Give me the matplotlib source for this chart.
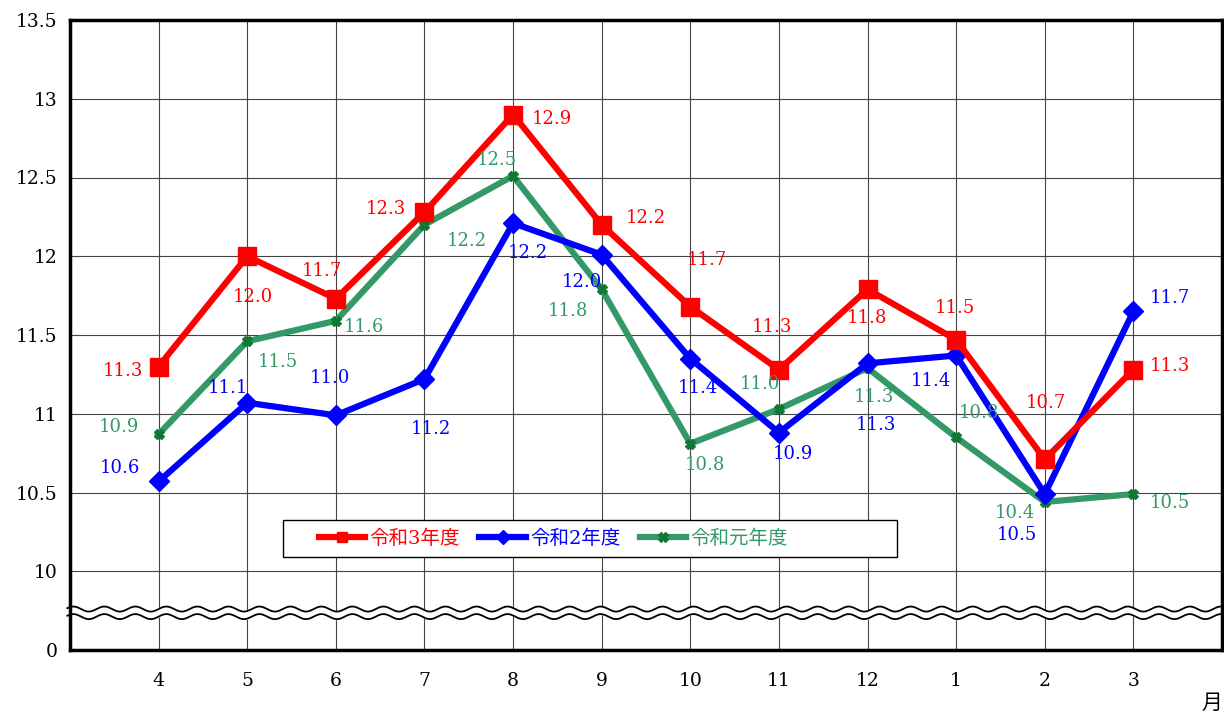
import matplotlib
matplotlib.use("Agg")
import matplotlib.pyplot as plt
from matplotlib.patches import Rectangle
import numpy as np

plt.rcParams['font.family'] = ['DejaVu Serif', 'Noto Sans CJK JP']

months = ["4", "5", "6", "7", "8", "9", "10", "11", "12", "1", "2", "3"]

r3 = [11.30, 12.00, 11.73, 12.28, 12.90, 12.20, 11.68, 11.28, 11.79, 11.47, 10.71, 11.28]
r3_labels = ["11.3", "12.0", "11.7", "12.3", "12.9", "12.2", "11.7", "11.3", "11.8", "11.5", "10.7", "11.3"]

r2 = [10.57, 11.07, 10.99, 11.22, 12.21, 12.01, 11.35, 10.88, 11.32, 11.37, 10.49, 11.65]
r2_labels = ["10.6", "11.1", "11.0", "11.2", "12.2", "12.0", "11.4", "10.9", "11.3", "11.4", "10.5", "11.7"]

r1 = [10.87, 11.46, 11.59, 12.20, 12.51, 11.79, 10.81, 11.03, 11.29, 10.85, 10.44, 10.49]
r1_labels = ["10.9", "11.5", "11.6", "12.2", "12.5", "11.8", "10.8", "11.0", "11.3", "10.8", "10.4", "10.5"]

ytick_values = [0, 10, 10.5, 11, 11.5, 12, 12.5, 13, 13.5]
ytick_labels = ["0", "10", "10.5", "11", "11.5", "12", "12.5", "13", "13.5"]

# label offsets in pixels (dx, dy down)
r3_off = [(-36, 4), (6, 41), (-14, -28), (-39, -3), (39, 4), (44, -7),
          (17, -47), (-7, -43), (-1, 29), (-1, -32), (1, -56), (37, -4)]
r2_off = [(-39, -13), (-19, -15), (-6, -37), (6, 50), (15, 30), (-20, 27),
          (8, 29), (14, 21), (8, 62), (-25, 26), (-28, 41), (36, -13)]
r1_off = [(-40, -7), (31, 21), (28, 6), (42, 16), (-16, -16), (-34, 22),
          (15, 21), (-19, -25), (6, 29), (23, -24), (-30, 11), (36, 9)]


def to_disp(v):
    # broken axis: 0..10 squeezed into one half-step
    v = np.asarray(v, dtype=float)
    return np.where(v >= 10, v, 9.5 + v * 0.05)


RED = "#FF0000"
BLUE = "#0000FF"
GREEN = "#339966"

fig = plt.figure(figsize=(12.24, 7.17), dpi=100)
ax = fig.add_axes([70 / 1224, 1 - 650 / 717, 1152 / 1224, 630 / 717])

x = np.arange(len(months))

ax.plot(x, to_disp(r3), color=RED, lw=4.5, marker="s", ms=13, label="令和3年度", zorder=5)
ax.plot(x, to_disp(r2), color=BLUE, lw=4.5, marker="D", ms=10, label="令和2年度", zorder=4)
ax.plot(x, to_disp(r1), color=GREEN, lw=4.5, marker="X", ms=7, mfc="#117733", mec="#117733",
        label="令和元年度", zorder=3)

for vals, labs, offs, col in [(r3, r3_labels, r3_off, RED),
                              (r2, r2_labels, r2_off, BLUE),
                              (r1, r1_labels, r1_off, GREEN)]:
    for i, (v, t, (dx, dy)) in enumerate(zip(vals, labs, offs)):
        ax.annotate(t, (i, float(to_disp(v))), xytext=(dx, -dy), textcoords="offset pixels",
                    ha="center", va="center", color=col, fontsize=13, zorder=6)

ax.set_xlim(-1, 12)
ax.set_ylim(9.5, 13.5)
ax.set_xticks(x)
ax.set_xticklabels(months, fontsize=13.5)
ax.set_yticks(to_disp(ytick_values))
ax.set_yticklabels(ytick_labels, fontsize=13.5)
ax.tick_params(length=0, pad=9)
ax.tick_params(axis="x", pad=16)

ax.grid(True, which="major", color="#444444", lw=0.8)
for s in ax.spines.values():
    s.set_linewidth(2.5)
    s.set_color("black")

# break marks
xs = np.linspace(-1.03, 12.03, 1500)
wave = 0.016 * np.sin(xs * 2 * np.pi / 0.35)
y_hi = 9.76 + wave
y_lo = 9.712 + wave
ax.fill_between(xs, y_lo, y_hi, color="white", zorder=2.5, clip_on=False)
ax.plot(xs, y_hi, color="black", lw=1.3, zorder=2.6, clip_on=False)
ax.plot(xs, y_lo, color="black", lw=1.3, zorder=2.6, clip_on=False)

ax.text(1.0, -0.085, "月", transform=ax.transAxes, ha="right", va="center", fontsize=15)

# legend box
ax.add_patch(Rectangle((0.185, 0.148), 0.533, 0.058, transform=ax.transAxes,
                       facecolor="white", edgecolor="black", lw=1.0, zorder=7))
leg = ax.legend(loc="center left", bbox_to_anchor=(0.216, 0.177), ncol=3, fontsize=14,
                frameon=False, borderaxespad=0, borderpad=0,
                handlelength=2.4, handletextpad=0.2, columnspacing=1.0)
leg.set_zorder(8)
for t, c in zip(leg.get_texts(), [RED, BLUE, GREEN]):
    t.set_color(c)
for h in leg.legend_handles:
    h.set_markersize(7)

fig.savefig("out.png", dpi=100)
